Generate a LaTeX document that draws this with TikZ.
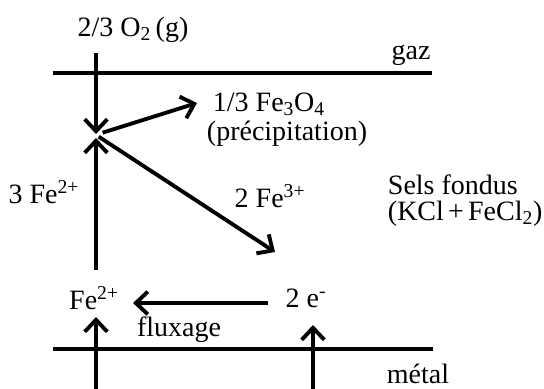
\documentclass[tikz,border=0pt]{standalone}
\usepackage{fontspec}
\setmainfont{Liberation Serif}
\usetikzlibrary{arrows.meta}

\tikzset{every picture/.style={line width=2.9pt}}
\tikzset{
flux/.style={-{Straight Barb[length=9pt,width=17pt,line width=2.9pt]}},
txt/.style={inner sep=0.75pt,font=\fontsize{21}{25}\selectfont}}

\begin{document}
\begin{tikzpicture}[x=0.75pt,y=0.75pt,yscale=-1,xscale=1]
\useasboundingbox (0,0) rectangle (544,389);

% Text Node
\node (o2) [txt] at (133,30) {2/3 O\textsubscript{2}\,(g)};
% Text Node
\node (gaz) [txt] at (411,55) {gaz};
% Text Node
\node (fe3o4) [txt,anchor=west] at (210,104) {1/3 Fe\textsubscript{3}O\textsubscript{4}};
% Text Node
\node (precip) [txt,anchor=west] at (204,134) {(précipitation)};
% Text Node
\node (fe2a) [txt,anchor=east] at (82,192) {3 Fe\textsuperscript{2+}};
% Text Node
\node (fe3) [txt] at (270,196) {2 Fe\textsuperscript{3+}};
% Text Node
\node (sels) [txt,anchor=west] at (385,185) {Sels fondus};
% Text Node
\node (kcl) [txt,anchor=west] at (385,214) {(KCl\hspace{0.15em}+\hspace{0.15em}FeCl\textsubscript{2})};
% Text Node
\node (fe2) [txt] at (94,298) {Fe\textsuperscript{2+}};
% Text Node
\node (elec) [txt] at (306,298) {2 e\textsuperscript{-}};
% Text Node
\node (fluxage) [txt] at (179,330) {fluxage};
% Text Node
\node (metal) [txt] at (418,374) {métal};

\coordinate (j) at (96,134);
\coordinate (o2in) at (96,53);
\coordinate (tipox) at (197,103);
\coordinate (tipfe) at (275,252);
\coordinate (fe2low) at (96,270);
\coordinate (eout) at (268,303);
\coordinate (fe2in) at (133,303);
\coordinate (mfe) at (96,389);
\coordinate (mfetip) at (96,317);
\coordinate (me) at (313,389);
\coordinate (metip) at (313,325);

%Straight Lines
\draw (53,73) -- (432,73);
\draw (53,349) -- (433,349);

%Straight Lines
\draw [flux] (o2in) -- (j);
\draw [flux] (fe2low) -- ([yshift=3pt]j);
\draw [flux] ([xshift=5pt,yshift=-1pt]j) -- (tipox);
\draw [flux] ([xshift=2pt,yshift=2pt]j) -- (tipfe);
\draw [flux] (eout) -- (fe2in);
\draw [flux] (mfe) -- (mfetip);
\draw [flux] (me) -- (metip);

\end{tikzpicture}
\end{document}
